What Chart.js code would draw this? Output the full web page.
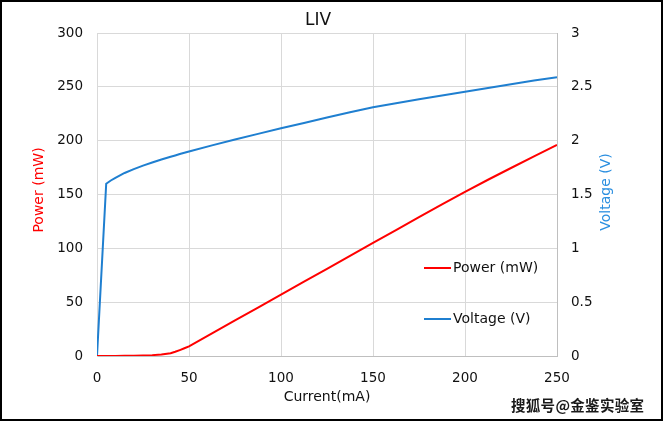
<!DOCTYPE html>
<html>
<head>
<meta charset="utf-8">
<script src="https://cdn.jsdelivr.net/npm/chart.js@4"></script>
<style>
    body { margin: 0; background: #fff; }
    #wrap { position: relative; width: 664px; height: 421px; }
    #liv { position: absolute; left: 0; top: 0; }
    #frame { position: absolute; left: 0; top: 0; width: 663px; height: 421px; box-sizing: border-box; border: 2px solid #000; pointer-events: none; }
    #mark { position: absolute; left: 511px; top: 394px; font: bold 14.5px "Noto Sans CJK SC", sans-serif; color: #1a1a1a; letter-spacing: 0.3px;
            text-shadow: 1px 0 #fff, -1px 0 #fff, 0 1px #fff, 0 -1px #fff; }
</style>
</head>
<body>
<div id="wrap">
    <canvas id="liv" width="664" height="421"></canvas>
    <div id="frame"></div>
    <div id="mark">搜狐号@金鉴实验室</div>
</div>
<script>
// LIV curve
const currents = [0, 5, 7.5, 10, 15, 20, 25, 30, 35, 40, 42.5, 45, 47.5, 50, 62.5, 75, 87.5, 100,
                  112.5, 125, 137.5, 150, 162.5, 175, 187.5, 200, 212.5, 225, 237.5, 250];
const power    = [0, 0, 0, 0.1, 0.2, 0.3, 0.5, 0.8, 1.4, 2.6, 3.9, 5.5, 7.2, 9, 21, 33, 45, 57,
                  69, 81, 93, 105, 117, 129, 140.9, 152.5, 163.7, 174.6, 185.4, 196];
const voltage  = [0, 1.60, 1.63, 1.655, 1.70, 1.735, 1.768, 1.797, 1.825, 1.851, 1.863, 1.876, 1.888, 1.90, 1.956, 2.01, 2.063, 2.115,
                  2.165, 2.215, 2.263, 2.31, 2.348, 2.385, 2.42, 2.455, 2.49, 2.525, 2.558, 2.59];

const powerTicks = [0, 50, 100, 150, 200, 250, 300];
const voltTicks  = [0, 0.5, 1, 1.5, 2, 2.5, 3];
const currentTicks = [0, 50, 100, 150, 200, 250];

const RED = "#ff0000";
const BLUE = "#1f7fd0";
const FONT = "'DejaVu Sans', sans-serif";

(function() {
    const pts = (ys) => currents.map((x, i) => ({ x: x, y: ys[i] }));

    // title, axis titles and the in-plot legend
    const textPlugin = {
        id: "texts",
        afterDraw(chart) {
            const c = chart.ctx, a = chart.chartArea;
            c.save();
            c.textBaseline = "middle";
            c.textAlign = "center";
            c.fillStyle = "#111";
            c.font = "17px " + FONT;
            c.fillText("LIV", 318, 21);

            c.font = "14px " + FONT;
            c.fillText("Current(mA)", (a.left + a.right) / 2, 397);

            c.save();
            c.translate(39, 190);
            c.rotate(-Math.PI / 2);
            c.fillStyle = RED;
            c.fillText("Power (mW)", 0, 0);
            c.restore();

            c.save();
            c.translate(606, 192);
            c.rotate(-Math.PI / 2);
            c.fillStyle = "#2b8fe0";
            c.fillText("Voltage (V)", 0, 0);
            c.restore();

            // legend
            c.textAlign = "left";
            chart.data.datasets.forEach((ds, i) => {
                const y = 268 + i * 51;
                c.strokeStyle = ds.borderColor;
                c.lineWidth = 2;
                c.beginPath();
                c.moveTo(424, y);
                c.lineTo(451, y);
                c.stroke();
                c.fillStyle = "#111";
                c.fillText(ds.label, 453, y);
            });
            c.restore();
        }
    };

    const tickFont = { family: FONT, size: 13.5 };
    const fixTicks = (list) => (s) => { s.ticks = list.map(v => ({ value: v })); };

    new Chart(document.getElementById("liv"), {
        type: "line",
        data: {
            datasets: [
                { label: "Power (mW)", data: pts(power), borderColor: RED, borderWidth: 2, pointRadius: 0, tension: 0, yAxisID: "y" },
                { label: "Voltage (V)", data: pts(voltage), borderColor: BLUE, borderWidth: 2, pointRadius: 0, tension: 0, yAxisID: "y1" }
            ]
        },
        options: {
            responsive: false,
            animation: false,
            devicePixelRatio: 1,
            layout: { padding: { left: 0, right: 0, top: 33, bottom: 0 } },
            plugins: { legend: { display: false }, tooltip: { enabled: false } },
            scales: {
                x: {
                    type: "linear", min: 0, max: 250,
                    afterFit: s => { s.height = 65; },
                    afterBuildTicks: fixTicks(currentTicks),
                    grid: { color: "#d9d9d9", drawTicks: false },
                    border: { color: "#bfbfbf" },
                    ticks: { color: "#111", font: tickFont, padding: 14, maxRotation: 0, autoSkip: false, callback: v => String(v) }
                },
                y: {
                    position: "left", min: 0, max: 300,
                    afterFit: s => { s.width = 97; },
                    afterBuildTicks: fixTicks(powerTicks),
                    grid: { color: "#d9d9d9", drawTicks: false },
                    border: { color: "#d9d9d9" },
                    ticks: { color: "#111", font: tickFont, padding: 14, autoSkip: false, callback: v => String(v) }
                },
                y1: {
                    position: "right", min: 0, max: 3,
                    afterFit: s => { s.width = 107; },
                    afterBuildTicks: fixTicks(voltTicks),
                    grid: { display: false, drawTicks: false },
                    border: { color: "#bfbfbf" },
                    ticks: { color: "#111", font: tickFont, padding: 14, autoSkip: false, callback: v => String(v) }
                }
            }
        },
        plugins: [textPlugin]
    });
})();
</script>
</body>
</html>
